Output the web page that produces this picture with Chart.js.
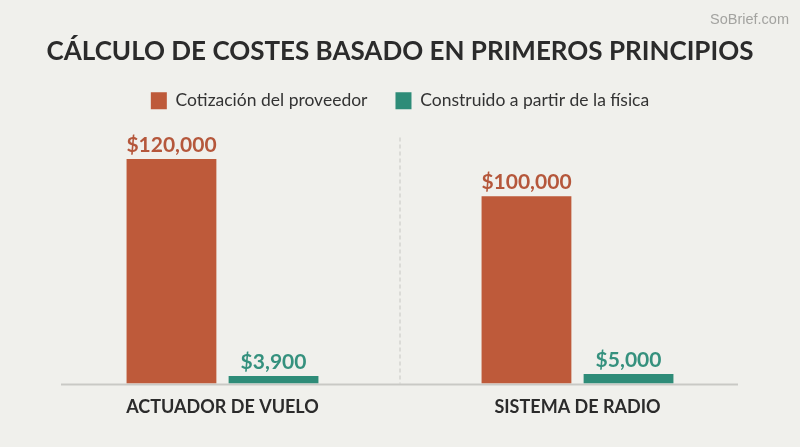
<!DOCTYPE html>
<html><head><meta charset="utf-8">
<script src="https://cdn.jsdelivr.net/npm/chart.js@4/dist/chart.umd.min.js"></script>
<style>html,body{margin:0;padding:0;background:#f0f0ec;}#wrap{width:800px;height:447px;position:relative}</style>
</head><body><div id="wrap"><canvas id="c" width="800" height="447"></canvas></div>
<script>
const categories = ['ACTUADOR DE VUELO', 'SISTEMA DE RADIO'];
const seriesNames = ['Cotización del proveedor', 'Construido a partir de la física'];
const vendorQuote = [120000, 100000];
const physicsBuilt = [3900, 5000];
const titleText = 'CÁLCULO DE COSTES BASADO EN PRIMEROS PRINCIPIOS';
const watermarkText = 'SoBrief.com';

const barColors = ['#be5a3a', '#2e8c78'];
const labelColors = ['#b5573b', '#35917e'];

const fmt = v => '$' + v.toLocaleString('en-US');

const decor = {
  id: 'decor',
  beforeDraw(chart) {
    const ctx = chart.ctx;
    ctx.save();
    ctx.fillStyle = '#f0f0ec';
    ctx.fillRect(0, 0, chart.width, chart.height);
    ctx.font = '14.5px "Liberation Sans", sans-serif';
    ctx.fillStyle = '#a3a3a0';
    ctx.textAlign = 'right';
    ctx.textBaseline = 'middle';
    ctx.fillText(watermarkText, 789, 20);
    ctx.restore();
  },
  beforeDatasetsDraw(chart) {
    const ctx = chart.ctx, a = chart.chartArea, xs = chart.scales.x;
    ctx.save();
    const mid = (xs.getPixelForTick(0) + xs.getPixelForTick(1)) / 2;
    ctx.strokeStyle = '#d3d3cf';
    ctx.lineWidth = 1.5;
    ctx.setLineDash([4, 3]);
    ctx.beginPath();
    ctx.moveTo(mid, a.top + 18);
    ctx.lineTo(mid, a.bottom);
    ctx.stroke();
    ctx.setLineDash([]);
    ctx.strokeStyle = '#c9c9c5';
    ctx.lineWidth = 2;
    ctx.beginPath();
    ctx.moveTo(a.left + 16, a.bottom + 1);
    ctx.lineTo(a.right - 17, a.bottom + 1);
    ctx.stroke();
    ctx.restore();
  },
  afterDatasetsDraw(chart) {
    const ctx = chart.ctx;
    ctx.save();
    ctx.font = 'bold 21px Lato, sans-serif';
    ctx.textAlign = 'center';
    ctx.textBaseline = 'alphabetic';
    chart.data.datasets.forEach((ds, di) => {
      const meta = chart.getDatasetMeta(di);
      ctx.fillStyle = labelColors[di];
      meta.data.forEach((bar, i) => {
        ctx.fillText(fmt(ds.data[i]), bar.x, bar.y - 7);
      });
    });
    ctx.restore();
  }
};

new Chart(document.getElementById('c'), {
  type: 'bar',
  data: {
    labels: categories,
    datasets: [
      { label: seriesNames[0], data: vendorQuote, backgroundColor: barColors[0], borderWidth: 0 },
      { label: seriesNames[1], data: physicsBuilt, backgroundColor: barColors[1], borderWidth: 0 }
    ]
  },
  options: {
    responsive: false,
    devicePixelRatio: 1,
    animation: false,
    categoryPercentage: 0.575,
    barPercentage: 0.88,
    layout: { padding: { left: 45, right: 45, top: 0, bottom: 16 } },
    plugins: {
      title: {
        display: true,
        text: titleText,
        color: '#2b2b2b',
        font: { family: 'Lato, sans-serif', size: 26, weight: 'bold', lineHeight: 0.92 },
        padding: { top: 40, bottom: 0 }
      },
      legend: {
        display: true,
        position: 'top',
        labels: {
          boxWidth: 16,
          boxHeight: 17,
          padding: 28,
          color: '#333333',
          font: { family: 'Lato, sans-serif', size: 17.5 }
        }
      },
      tooltip: { enabled: false }
    },
    scales: {
      x: {
        offset: true,
        grid: { display: false, drawTicks: false },
        border: { display: false },
        ticks: {
          color: '#2b2b2b',
          padding: 13,
          font: { family: 'Lato, sans-serif', size: 18, weight: 'bold', lineHeight: 1.2 }
        }
      },
      y: {
        display: false,
        min: 0,
        max: 141100
      }
    }
  },
  plugins: [decor]
});
</script>
</body></html>
